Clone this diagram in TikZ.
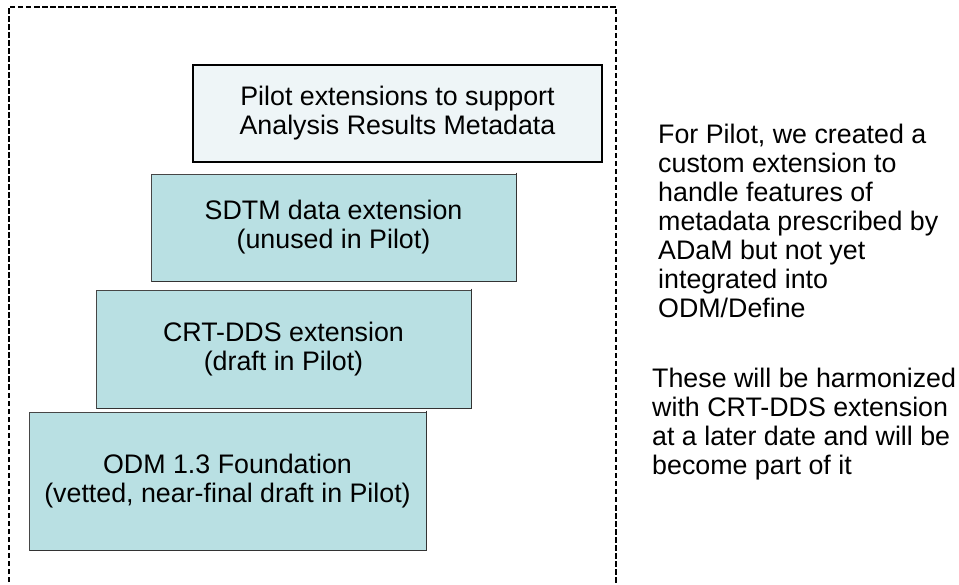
\documentclass[tikz,border=0pt]{standalone}
\usepackage{fontspec}
\setmainfont{Liberation Sans}
\definecolor{layerfill}{RGB}{185,224,227}
\definecolor{pilotfill}{RGB}{238,245,247}
\begin{document}
\begin{tikzpicture}[x=1pt,y=-1pt,
  every node/.style={font=\fontsize{26.8}{29}\selectfont, inner sep=0pt},
  layer/.style={draw=gray!55!black, line width=0.8pt, fill=layerfill, align=center},
  pilotbox/.style={draw=black, line width=1.8pt, fill=pilotfill, align=center},
  shadowline/.style={draw=black!80, line width=1.4pt},
  frame/.style={draw=black, line width=2.6pt, dash pattern=on 5.5pt off 2.5pt},
  note/.style={align=left, anchor=north west}]
\useasboundingbox (0,0) rectangle (959,585);

% open dashed frame round the stack
\draw[frame] (9,590) -- (9,7) -- (616,7) -- (616,590);

% layered extension boxes, bottom to top
\node[layer, minimum width=397pt, minimum height=138pt] (odm) at (227.5,481)
  {ODM 1.3 Foundation\\(vetted, near-final draft in Pilot)};
\node[layer, minimum width=375pt, minimum height=118pt] (crt) at (283.5,349)
  {CRT-DDS extension\\(draft in Pilot)};
\node[layer, minimum width=365pt, minimum height=107pt] (sdtm) at (333.5,227.5)
  {SDTM data extension\\(unused in Pilot)};
\node[pilotbox, minimum width=409pt, minimum height=97pt] (pilot) at (397.5,113.5)
  {Pilot extensions to support\\Analysis Results Metadata};

% shadow edges on right and bottom of the solid boxes
\foreach \b in {odm,crt,sdtm}
  \draw[shadowline] ([yshift=1pt]\b.north east) -- (\b.south east) -- ([xshift=1pt]\b.south west);

% notes beside the frame
\node[note] (note1) at (658,124)
  {For Pilot, we created a\\custom extension to\\handle features of\\metadata prescribed by\\ADaM but not yet\\integrated into\\ODM/Define};
\node[note] (note2) at (652,368)
  {These will be harmonized\\with CRT-DDS extension\\at a later date and will be\\become part of it};
\end{tikzpicture}
\end{document}
